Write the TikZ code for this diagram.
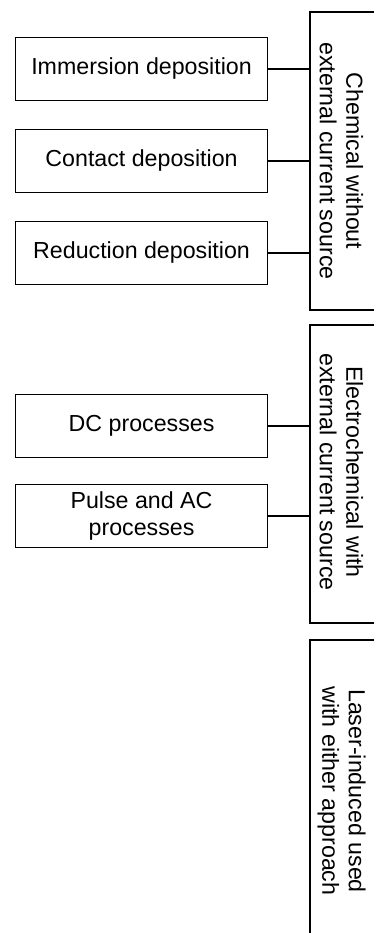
\documentclass[tikz,border=0pt]{standalone}
\usepackage{fontspec}
\setmainfont{Liberation Sans}
\begin{document}
\begin{tikzpicture}[x=1pt,y=-1pt,
  every node/.style={font=\fontsize{23.2}{26.5}\selectfont, inner sep=0pt},
  leftbox/.style={draw, line width=1.1pt, minimum width=252pt, minimum height=63pt, align=center, anchor=west},
  sidelabel/.style={rotate=-90, align=center},
  link/.style={line width=1.1pt},
  bracket/.style={line width=1.1pt}]
\useasboundingbox (0,0) rectangle (375,933);
% left boxes
\node[leftbox] (imm) at (15,69) {Immersion deposition};
\node[leftbox] (con) at (15,161) {Contact deposition};
\node[leftbox] (red) at (15,253) {Reduction deposition};
\node[leftbox] (dc) at (15,426) {DC processes};
\node[leftbox] (pul) at (15,516) {Pulse and AC\\processes};
% right brackets
\coordinate (c1t) at (310,12);
\coordinate (c1b) at (310,310);
\coordinate (c2t) at (310,325);
\coordinate (c2b) at (310,623);
\coordinate (c3t) at (310,640);
\coordinate (c3b) at (310,933);
\draw[bracket] (374,12) -- (c1t) -- (c1b) -- (374,310);
\draw[bracket] (374,325) -- (c2t) -- (c2b) -- (374,623);
\draw[bracket] (374,640) -- (c3t) -- (c3b);
% side labels
\node[sidelabel] (chem) at (341.5,161) {Chemical without\\external current source};
\node[sidelabel] (elec) at (341.5,472) {Electrochemical with\\external current source};
\node[sidelabel] (las) at (341.5,791) {Laser-induced used\\with either approach};
% connectors
\draw[link] (imm.east) -- (imm.east -| c1t);
\draw[link] (con.east) -- (con.east -| c1t);
\draw[link] (red.east) -- (red.east -| c1t);
\draw[link] (dc.east) -- (dc.east -| c2t);
\draw[link] (pul.east) -- (pul.east -| c2t);
\end{tikzpicture}
\end{document}
